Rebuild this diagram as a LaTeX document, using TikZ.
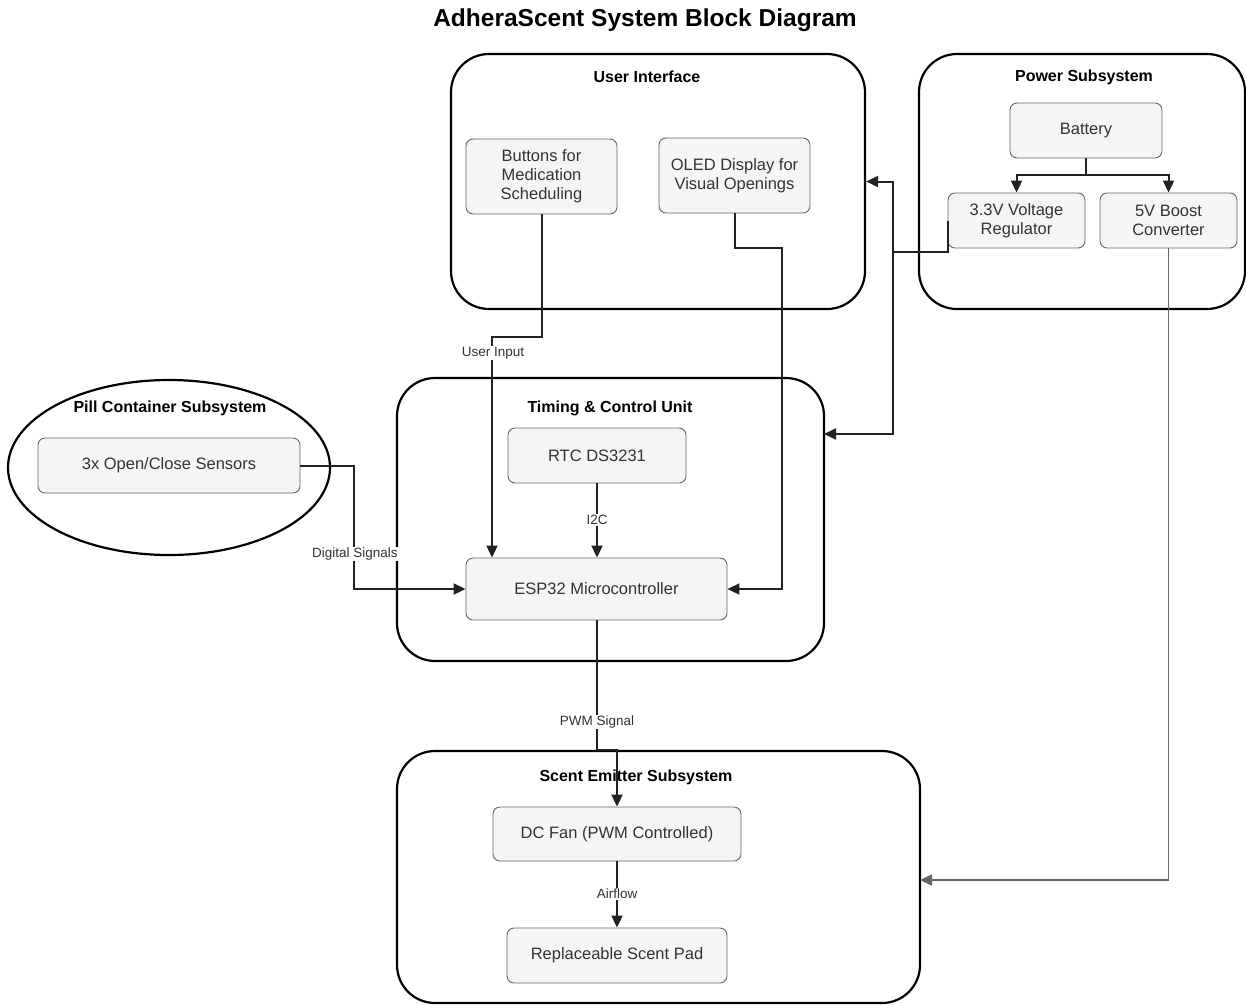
\documentclass[tikz,border=0pt]{standalone}
\usepackage{fontspec}
\setmainfont{Liberation Sans}
\usetikzlibrary{arrows.meta,shapes.geometric}
\definecolor{boxfill}{HTML}{F5F5F5}
\definecolor{boxline}{HTML}{666666}
\definecolor{txt}{HTML}{333333}
\definecolor{wire}{HTML}{222222}
\begin{document}
\begin{tikzpicture}[x=1pt,y=-1pt,
 container/.style={draw=black,line width=2.2pt,rounded corners=38pt,inner sep=0pt},
 block/.style={draw=boxline,fill=boxfill,rounded corners=7pt,line width=0.9pt,text=txt,
   font=\fontsize{16.5}{19}\selectfont,align=center,inner sep=0pt},
 ctitle/.style={font=\bfseries\fontsize{16}{19}\selectfont},
 conn/.style={draw=wire,line width=2pt,-{Triangle[length=12pt,width=11pt]}},
 wireline/.style={draw=wire,line width=2pt},
 thinconn/.style={draw=boxline,line width=1.5pt,-{Triangle[length=12pt,width=11pt]}},
 lbl/.style={fill=white,font=\fontsize{13.5}{16}\selectfont,text=txt,inner sep=1pt}
]
\clip (0,0) rectangle (1246,1004);

\node[font=\bfseries\fontsize{24.5}{28}\selectfont] (title) at (645,20) {AdheraScent System Block Diagram};

% containers
\node[container,minimum width=414,minimum height=255] (ui) at (658,181.5) {};
\node[container,minimum width=326,minimum height=255] (pwr) at (1082,181.5) {};
\node[container,minimum width=427,minimum height=283] (tcu) at (610.5,519.5) {};
\node[draw=black,line width=2.2pt,ellipse,inner sep=0pt,minimum width=322,minimum height=175] (pill) at (169,467.5) {};
\node[container,minimum width=523,minimum height=252] (sce) at (658.5,877) {};

\node[ctitle] (uit) at (647,77) {User Interface};
\node[ctitle] (pwrt) at (1084,77) {Power Subsystem};
\node[ctitle] (tcut) at (610,408) {Timing \& Control Unit};
\node[ctitle] (pillt) at (170,408) {Pill Container Subsystem};
\node[ctitle] (scet) at (636,777) {Scent Emitter Subsystem};

% blocks
\node[block,minimum width=151,minimum height=75] (btn) at (541.5,176.5) {Buttons for\\Medication\\Scheduling};
\node[block,minimum width=151,minimum height=75] (oled) at (734.5,175.5) {OLED Display for\\Visual Openings};
\node[block,minimum width=152,minimum height=55] (bat) at (1086,130.5) {Battery};
\node[block,minimum width=137,minimum height=55] (reg) at (1016.5,220.5) {3.3V Voltage\\Regulator};
\node[block,minimum width=137,minimum height=55] (boost) at (1168.5,220.5) {5V Boost\\Converter};
\node[block,minimum width=262,minimum height=55] (sens) at (169,465.5) {3x Open/Close Sensors};
\node[block,minimum width=178,minimum height=55] (rtc) at (597,455.5) {RTC DS3231};
\node[block,minimum width=261,minimum height=62] (esp) at (596.5,589) {ESP32 Microcontroller};
\node[block,minimum width=248,minimum height=54] (fan) at (617,834) {DC Fan (PWM Controlled)};
\node[block,minimum width=220,minimum height=55] (pad) at (617,955.5) {Replaceable Scent Pad};

% helper coordinates
\coordinate (bj) at (1086,175);
\coordinate (rj) at (893,252);
\coordinate (tin) at (824,434);
\coordinate (uij) at (492,337);
\coordinate (oj) at (782,248);
\coordinate (sj) at (354,465.5);
\coordinate (pj) at (596.5,750);
\coordinate (sin) at (920,880);

% connectors
\draw[wireline] (bat.south) -- (bj);
\draw[conn] (bj) -| (reg.north);
\draw[conn] (bj) -| (boost.north);
\draw[wireline] (reg.west) |- (rj);
\draw[conn] (rj) |- (ui.east);
\draw[conn] (rj) |- (tin);
\draw[thinconn] (boost.south) |- (sin);
\draw[conn] (btn.south) |- (uij) -- (uij |- esp.north);
\draw[conn] (oled.south) |- (oj) |- (esp.east);
\draw[conn] (sens.east) -- (sj) |- (esp.west);
\draw[conn] (rtc.south) -- (rtc.south |- esp.north);
\draw[conn] (esp.south) -- (pj) -| (fan.north);
\draw[conn] (fan.south) -- (pad.north);

% labels
\node[lbl] (l1) at (493,353) {User Input};
\node[lbl] (l2) at (355,554) {Digital Signals};
\node[lbl] (l3) at (597,520) {I2C};
\node[lbl] (l4) at (597,722) {PWM Signal};
\node[lbl] (l5) at (617,894) {Airflow};
\end{tikzpicture}
\end{document}
